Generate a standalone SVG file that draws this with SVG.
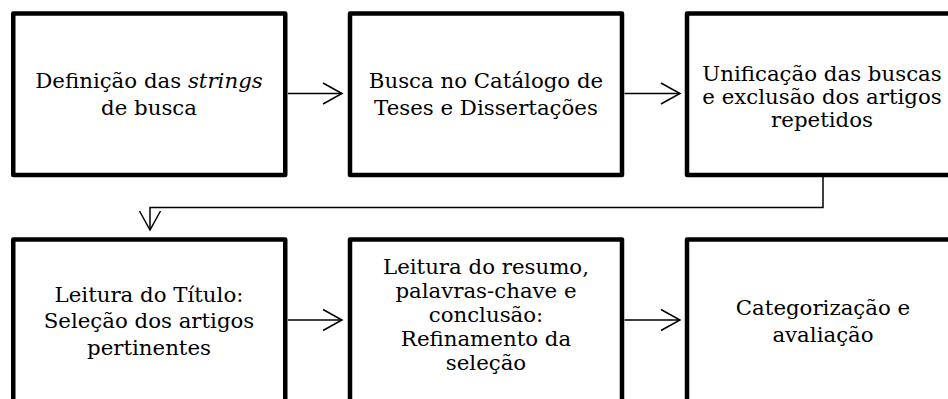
<svg xmlns="http://www.w3.org/2000/svg" width="948" height="399" viewBox="0 0 948 399">
<style>
.box{fill:#fff;stroke:#000;stroke-width:4.5;stroke-linejoin:round}
.t{font-family:'DejaVu Serif','Liberation Serif',serif;font-size:21.3px;fill:#000;text-anchor:middle}
.c{fill:none;stroke:#000;stroke-width:1.5}
</style>
<defs>
<marker id="ah" viewBox="-20 -12 22 24" markerWidth="22" markerHeight="24" refX="0" refY="0" orient="auto" markerUnits="userSpaceOnUse">
<path d="M-19,-10.5 L0,0 L-19,10.5" fill="none" stroke="#000" stroke-width="1.5"/>
</marker>
</defs>
<rect width="948" height="399" fill="#fff"/>
<g id="n1"><rect class="box" x="13.25" y="13.5" width="272" height="161.5"/>
<text class="t" x="149" y="87.5">Definição das <tspan font-style="italic">strings</tspan></text>
<text class="t" x="149" y="114.5">de busca</text></g>
<g id="n2"><rect class="box" x="350" y="13.5" width="272" height="161.5"/>
<text class="t" x="486" y="87.5">Busca no Catálogo de</text>
<text class="t" x="486" y="114.5">Teses e Dissertações</text></g>
<g id="n3"><rect class="box" x="687" y="13.5" width="272" height="161.5"/>
<text class="t" x="822" y="81">Unificação das buscas</text>
<text class="t" x="822" y="104">e exclusão dos artigos</text>
<text class="t" x="822" y="127">repetidos</text></g>
<g id="n4"><rect class="box" x="13.25" y="239.5" width="272" height="162"/>
<text class="t" x="149" y="301.5">Leitura do Título:</text>
<text class="t" x="149" y="328">Seleção dos artigos</text>
<text class="t" x="149" y="354.5">pertinentes</text></g>
<g id="n5"><rect class="box" x="350" y="239.5" width="272" height="162"/>
<text class="t" x="486" y="274">Leitura do resumo,</text>
<text class="t" x="486" y="298">palavras-chave e</text>
<text class="t" x="486" y="322">conclusão:</text>
<text class="t" x="486" y="346">Refinamento da</text>
<text class="t" x="486" y="370">seleção</text></g>
<g id="n6"><rect class="box" x="687" y="239.5" width="272" height="162"/>
<text class="t" x="823" y="315">Categorização e</text>
<text class="t" x="823" y="341.5">avaliação</text></g>
<g id="connectors">
<path class="c" d="M288,93.5 H342" marker-end="url(#ah)"/>
<path class="c" d="M624.5,93.5 H680" marker-end="url(#ah)"/>
<path class="c" d="M823,177 V207.5 H150 V230" marker-end="url(#ah)"/>
<path class="c" d="M288,320 H342" marker-end="url(#ah)"/>
<path class="c" d="M624.5,320 H680" marker-end="url(#ah)"/>
</g>
</svg>
